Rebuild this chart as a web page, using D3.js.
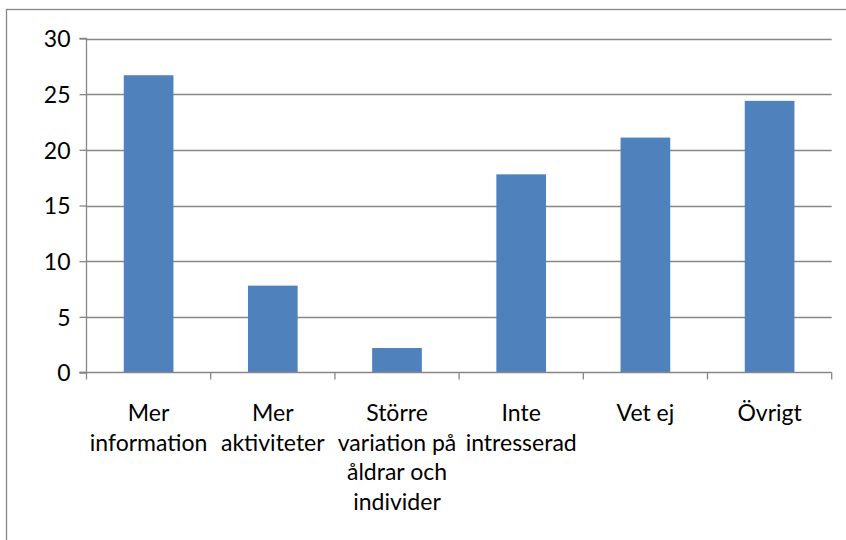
<!DOCTYPE html>
<html><head><meta charset="utf-8">
<script src="https://cdn.jsdelivr.net/npm/d3@7"></script>
<style>body{margin:0;background:#fff}svg{display:block}</style>
</head><body>
<svg id="c" width="846" height="540"></svg>
<script>
const categories = ["Mer information","Mer aktiviteter","Större variation på åldrar och individer","Inte intresserad","Vet ej","Övrigt"];
const labelLines = [["Mer","information"],["Mer","aktiviteter"],["Större","variation på","åldrar och","individer"],["Inte","intresserad"],["Vet ej"],["Övrigt"]];
const values = [26.7, 7.8, 2.2, 17.8, 21.1, 24.4];
const yTicks = [0,5,10,15,20,25,30];

(function(){
const svg = d3.select("#c");
const pLeft = 86.5, pRight = 831.7, pTop = 38.5, pBottom = 372.5;
const font = "Lato, 'Open Sans', sans-serif";
const grey = "#878787";

// outer frame
svg.append("rect").attr("x",6.5).attr("y",9.5).attr("width",860).attr("height",560)
  .attr("fill","none").attr("stroke",grey).attr("stroke-width",1.3);

const x = d3.scaleBand().domain(categories).range([pLeft,pRight]).paddingInner(0.6).paddingOuter(0.3);
const y = d3.scaleLinear().domain([0,30]).range([pBottom,pTop]);

// gridlines
svg.append("g").selectAll("line").data(yTicks.filter(d=>d>0)).join("line")
  .attr("x1",pLeft).attr("x2",pRight).attr("y1",d=>Math.round(y(d))+0.5).attr("y2",d=>Math.round(y(d))+0.5)
  .attr("stroke",grey).attr("stroke-width",1.3);

// bars
svg.append("g").selectAll("rect").data(values).join("rect")
  .attr("x",(d,i)=>x(categories[i])).attr("width",x.bandwidth())
  .attr("y",d=>y(d)).attr("height",d=>pBottom-y(d))
  .attr("fill","#4F81BD");

// y axis
const yAxis = d3.axisLeft(y).tickValues(yTicks).tickSize(7).tickPadding(9).tickFormat(d3.format("d"));
const gy = svg.append("g").attr("transform",`translate(${pLeft},0)`).call(yAxis);
gy.select(".domain").attr("stroke",grey).attr("stroke-width",1.3).attr("d",`M-7,${pTop}H0V${pBottom}H-7`);
gy.selectAll(".tick line").attr("stroke",grey).attr("stroke-width",1.3);
gy.selectAll(".tick text").attr("font-family",font).attr("font-size",23).attr("fill","#000").attr("dy","0.36em");

// x axis
const step = (pRight-pLeft)/categories.length;
const boundaries = d3.range(categories.length+1).map(i=>pLeft+i*step);
svg.append("line").attr("x1",pLeft-7).attr("x2",pRight).attr("y1",pBottom).attr("y2",pBottom)
  .attr("stroke",grey).attr("stroke-width",1.3);
svg.append("g").selectAll("line").data(boundaries).join("line")
  .attr("x1",d=>d).attr("x2",d=>d).attr("y1",pBottom).attr("y2",pBottom+7)
  .attr("stroke",grey).attr("stroke-width",1.3);

// x labels
const lg = svg.append("g").attr("font-family",font).attr("font-size",23).attr("fill","#000").attr("text-anchor","middle");
categories.forEach((c,i)=>{
  const cx = x(c)+x.bandwidth()/2;
  const t = lg.append("text").attr("x",cx).attr("y",421);
  labelLines[i].forEach((ln,j)=>{
    t.append("tspan").attr("x",cx).attr("y",421+j*29.7).text(ln);
  });
});
})();
</script>
</body></html>
